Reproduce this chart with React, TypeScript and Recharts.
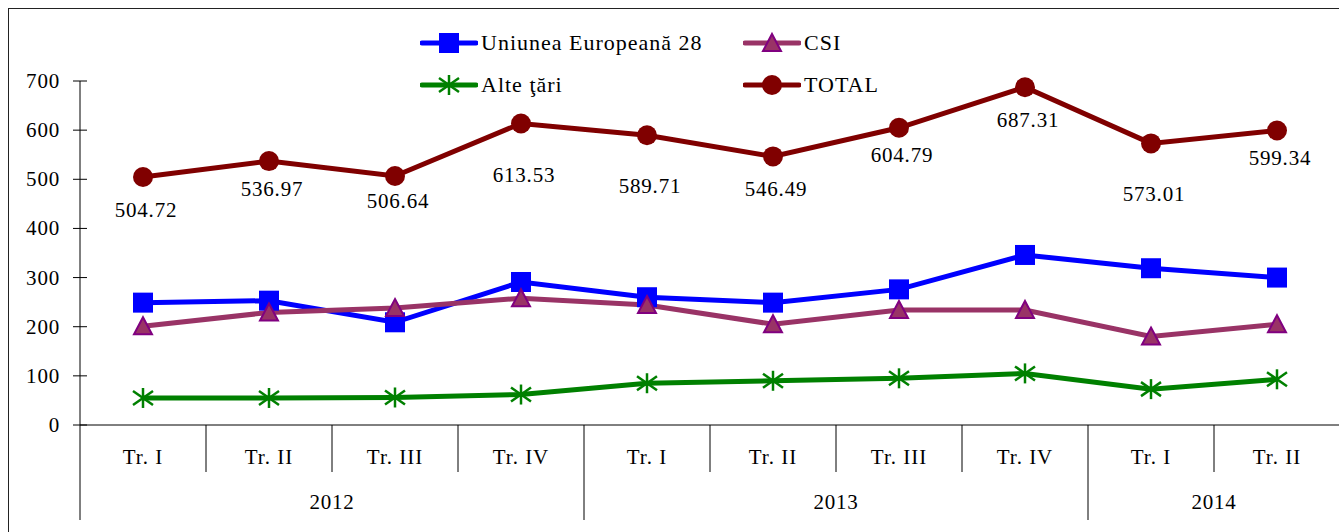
import React from 'react'
import { LineChart, Line, XAxis, YAxis, Legend, LabelList } from 'recharts'

const quarters = ['Tr. I', 'Tr. II', 'Tr. III', 'Tr. IV', 'Tr. I', 'Tr. II', 'Tr. III', 'Tr. IV', 'Tr. I', 'Tr. II']
const years = ['2012', '2012', '2012', '2012', '2013', '2013', '2013', '2013', '2014', '2014']
const ue28 = [249, 253, 209, 291, 260, 249, 276, 346, 319, 300]
const csi = [201, 229, 238, 258, 244, 205, 234, 234, 180, 205]
const alte = [55, 55, 56, 62, 85, 90, 95, 105, 73, 93]
const total = [504.72, 536.97, 506.64, 613.53, 589.71, 546.49, 604.79, 687.31, 573.01, 599.34]
const yTicks = [0, 100, 200, 300, 400, 500, 600, 700]

// how far under each TOTAL dot its value label sits (layout only)
const totalLabelDy = [33, 28, 25, 52, 51, 33, 27, 33, 51, 28]

const data = quarters.map((q, i) => ({
  quarter: q,
  year: years[i],
  ue28: ue28[i],
  csi: csi[i],
  alte: alte[i],
  total: total[i],
}))

const FONT = '"Liberation Serif", "Times New Roman", serif'
const W = 1340
const H = 532
const M = { top: 81, right: 0, left: 0, bottom: 11 }
const Y_W = 80
const X_H = 96
const band = (W - Y_W - M.left - M.right) / quarters.length

const series = [
  { key: 'ue28', name: 'Uniunea Europeană 28', color: '#0000FF', marker: 'square' },
  { key: 'csi', name: 'CSI', color: '#993366', marker: 'triangle' },
  { key: 'alte', name: 'Alte ţări', color: '#008000', marker: 'star' },
  { key: 'total', name: 'TOTAL', color: '#800000', marker: 'circle' },
]

const Marker = ({ kind, cx, cy }: { kind: string; cx: number; cy: number }) => {
  if (kind === 'square') return <rect x={cx - 10} y={cy - 10} width={20} height={20} fill="#0000FF" />
  if (kind === 'triangle')
    return (
      <polygon
        points={`${cx},${cy - 9} ${cx + 9},${cy + 8} ${cx - 9},${cy + 8}`}
        fill="#993366"
        stroke="#800080"
        strokeWidth={2}
      />
    )
  if (kind === 'star')
    return (
      <g stroke="#008000" strokeWidth={2.5}>
        <line x1={cx} y1={cy - 10} x2={cx} y2={cy + 10} />
        <line x1={cx - 10} y1={cy - 7} x2={cx + 10} y2={cy + 7} />
        <line x1={cx - 10} y1={cy + 7} x2={cx + 10} y2={cy - 7} />
      </g>
    )
  return <circle cx={cx} cy={cy} r={10} fill="#800000" />
}

const XTick = (props: any) => {
  const { x, y, payload } = props
  const i = payload.index
  const left = x - band / 2
  const yearStart = i === 0 || years[i] !== years[i - 1]
  const span = years.filter((yy) => yy === years[i]).length
  return (
    <g>
      <text x={x} y={y + 32} textAnchor="middle" dominantBaseline="central" fontFamily={FONT} fontSize={21} letterSpacing={1} fill="#000">
        {quarters[i]}
      </text>
      <line x1={left} y1={y} x2={left} y2={y + (yearStart ? 95 : 47)} stroke="#000" strokeWidth={1} />
      {yearStart && (
        <text
          x={left + (span * band) / 2}
          y={y + 77}
          textAnchor="middle"
          dominantBaseline="central"
          fontFamily={FONT}
          fontSize={21}
          letterSpacing={0.8}
          fill="#000"
        >
          {years[i]}
        </text>
      )}
    </g>
  )
}

const YTick = (props: any) => {
  const { x, y, payload } = props
  return (
    <g>
      <line x1={x - 7} y1={y} x2={x + 7} y2={y} stroke="#000" strokeWidth={1} />
      <text x={x - 20} y={y} textAnchor="end" dominantBaseline="central" fontFamily={FONT} fontSize={21} letterSpacing={0.8} fill="#000">
        {payload.value}
      </text>
    </g>
  )
}

const TotalLabel = (props: any) => {
  const { x, y, value, index } = props
  return (
    <text
      x={x + 3}
      y={y + totalLabelDy[index]}
      textAnchor="middle"
      dominantBaseline="central"
      fontFamily={FONT}
      fontSize={21}
      letterSpacing={0.8}
      fill="#000"
    >
      {Number(value).toFixed(2)}
    </text>
  )
}

const LegendBox = () => (
  <div style={{ display: 'grid', gridTemplateColumns: '323px 160px', rowGap: 18, fontFamily: FONT, fontSize: 22 }}>
    {series.map((s) => (
      <div key={s.key} style={{ display: 'flex', alignItems: 'center', height: 24, whiteSpace: 'nowrap' }}>
        <svg width={58} height={24}>
          <line x1={2} y1={12} x2={56} y2={12} stroke={s.color} strokeWidth={5} strokeLinecap="round" />
          <Marker kind={s.marker} cx={29} cy={12} />
        </svg>
        <span style={{ marginLeft: 3, letterSpacing: 1, color: '#000' }}>{s.name}</span>
      </div>
    ))}
  </div>
)

export default function App() {
  return (
    <div style={{ position: 'relative', width: 1339, height: 532, overflow: 'hidden', background: '#fff' }}>
      <style>{`body{margin:0;overflow:hidden}`}</style>
      <div
        style={{
          position: 'absolute',
          left: 8,
          top: 8,
          width: 1400,
          height: 600,
          borderLeft: '1px solid #222',
          borderTop: '1px solid #222',
        }}
      />
      <div style={{ position: 'absolute', left: 0, top: 0 }}>
        <LineChart width={W} height={H} data={data} margin={M}>
          <XAxis
            dataKey="quarter"
            padding={{ left: band / 2, right: band / 2 }}
            height={X_H}
            interval={0}
            tickSize={0}
            tickMargin={0}
            tickLine={false}
            axisLine={{ stroke: '#000', strokeWidth: 1 }}
            tick={<XTick />}
          />
          <YAxis
            width={Y_W}
            domain={[0, 700]}
            ticks={yTicks}
            interval={0}
            tickSize={0}
            tickMargin={0}
            tickLine={false}
            axisLine={{ stroke: '#000', strokeWidth: 1 }}
            tick={<YTick />}
          />
          <Legend
            verticalAlign="middle"
            align="center"
            layout="horizontal"
            wrapperStyle={{ position: 'absolute', left: 420, top: 31, width: 500 }}
            content={<LegendBox />}
          />
          {series.map((s) => (
            <Line
              key={s.key}
              dataKey={s.key}
              name={s.name}
              type="linear"
              stroke={s.color}
              strokeWidth={5}
              isAnimationActive={false}
              dot={(p: any) => <Marker key={`${s.key}-${p.index}`} kind={s.marker} cx={p.cx} cy={p.cy} />}
              activeDot={false}
            >
              {s.key === 'total' && <LabelList dataKey="total" content={<TotalLabel />} />}
            </Line>
          ))}
        </LineChart>
      </div>
    </div>
  )
}
